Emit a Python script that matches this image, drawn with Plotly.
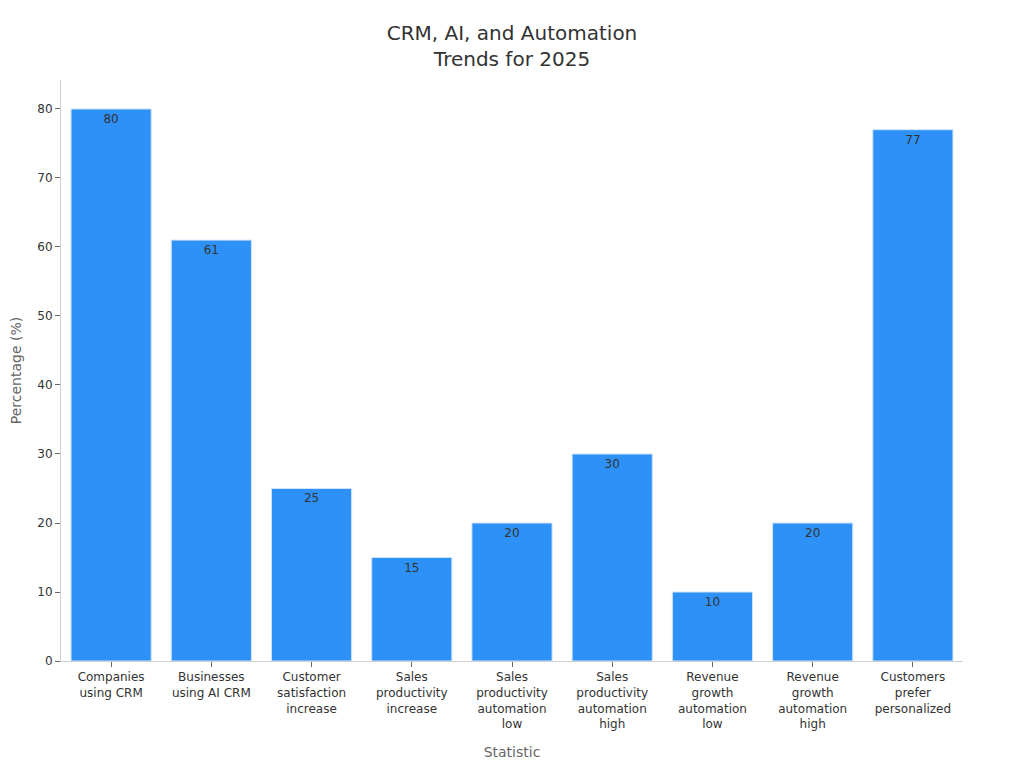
import plotly.graph_objects as go

categories = [
    "Companies<br>using CRM",
    "Businesses<br>using AI CRM",
    "Customer<br>satisfaction<br>increase",
    "Sales<br>productivity<br>increase",
    "Sales<br>productivity<br>automation<br>low",
    "Sales<br>productivity<br>automation<br>high",
    "Revenue<br>growth<br>automation<br>low",
    "Revenue<br>growth<br>automation<br>high",
    "Customers<br>prefer<br>personalized",
]
values = [80, 61, 25, 15, 20, 30, 10, 20, 77]

fig = go.Figure(
    go.Bar(
        x=categories,
        y=values,
        text=[str(v) for v in values],
        textposition="inside",
        insidetextanchor="end",
        textfont=dict(family="DejaVu Sans", size=12, color="#333333"),
        marker=dict(color="#2E91F7", line=dict(color="#D0E4FA", width=1)),
    )
)

fig.update_layout(
    width=1024,
    height=768,
    paper_bgcolor="white",
    plot_bgcolor="white",
    font=dict(family="DejaVu Sans", color="#333333"),
    title=dict(
        text="CRM, AI, and Automation<br>Trends for 2025",
        x=0.4922,
        xanchor="center",
        y=0.9583,
        yanchor="middle",
        font=dict(size=20, color="#333333"),
    ),
    margin=dict(l=53, r=69, t=72, b=115),
    bargap=0.2,
    showlegend=False,
)

fig.update_xaxes(
    title=dict(text="Statistic", font=dict(size=14, color="#666666"), standoff=16),
    showline=True,
    linecolor="#D0D0D0",
    ticks="outside",
    ticklen=5,
    tickcolor="#666666",
    tickfont=dict(size=12, color="#333333"),
    tickangle=0,
    showgrid=False,
)
fig.update_yaxes(
    title=dict(text="Percentage (%)", font=dict(size=14, color="#666666")),
    automargin=False,
    range=[0, 84.2],
    dtick=10,
    showline=True,
    linecolor="#D0D0D0",
    ticks="outside",
    ticklen=5,
    tickcolor="#666666",
    tickfont=dict(size=12, color="#333333"),
    showgrid=False,
    zeroline=False,
)

fig.write_html("out.html")
